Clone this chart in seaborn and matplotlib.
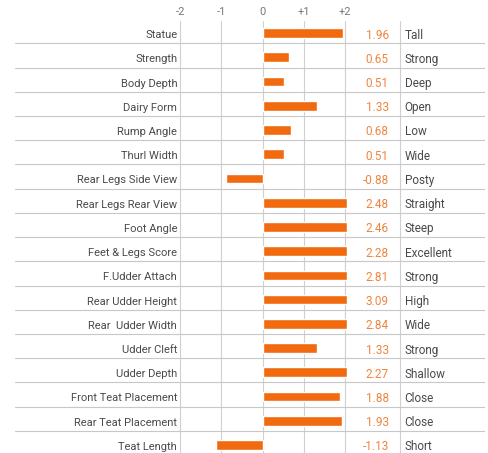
import matplotlib
matplotlib.use('Agg')
import matplotlib.pyplot as plt
import seaborn as sns
import pandas as pd
import numpy as np

traits = ['Statue', 'Strength', 'Body Depth', 'Dairy Form', 'Rump Angle', 'Thurl Width',
          'Rear Legs Side View', 'Rear Legs Rear View', 'Foot Angle', 'Feet & Legs Score',
          'F.Udder Attach', 'Rear Udder Height', 'Rear  Udder Width', 'Udder Cleft',
          'Udder Depth', 'Front Teat Placement', 'Rear Teat Placement', 'Teat Length']
values = [1.96, 0.65, 0.51, 1.33, 0.68, 0.51, -0.88, 2.48, 2.46, 2.28,
          2.81, 3.09, 2.84, 1.33, 2.27, 1.88, 1.93, -1.13]
descriptors = ['Tall', 'Strong', 'Deep', 'Open', 'Low', 'Wide', 'Posty', 'Straight', 'Steep',
               'Excellent', 'Strong', 'High', 'Wide', 'Strong', 'Shallow', 'Close', 'Close', 'Short']
tick_vals = [-2, -1, 0, 1, 2]
tick_labels = ['-2', '-1', '0', '+1', '+2']

sns.set_style('white')
plt.rcParams['font.family'] = ['Roboto', 'DejaVu Sans']

df = pd.DataFrame({'trait': traits, 'value': values})
# bars are cut off just past the +2 / -2 range
df['bar'] = np.clip(df['value'], -2.05, 2.05)

W, H = 488, 453
fig = plt.figure(figsize=(W / 100, H / 100), dpi=100)
ax = fig.add_axes([15 / W, 0, (485 - 15) / W, (453 - 21) / H])

orange = '#f26a10'
sns.barplot(data=df, x='bar', y='trait', orient='h', color=orange, saturation=1,
            width=0.4, ax=ax, zorder=3)

n = len(traits)
ax.set_xlim(-6.0, 5.39)
ax.set_ylim(n - 1 + 0.33, -0.5)

for t in tick_vals:
    ax.axvline(t, color='#d0d0d0', lw=0.8, zorder=1)
ax.axvline(3.32, color='#d0d0d0', lw=0.8, zorder=1)
for i in range(n):
    ax.axhline(i + 0.42, color='#c8c8c8', lw=0.8, zorder=1)

for i, (tr, v, d) in enumerate(zip(traits, values, descriptors)):
    ax.text(-2.07, i + 0.08, tr, ha='right', va='center', fontsize=8, color='#4a4a4a')
    ax.text(3.06, i + 0.08, f'{v:.2f}', ha='right', va='center', fontsize=8.5, color='#f0843f')
    ax.text(3.44, i + 0.08, d, ha='left', va='center', fontsize=8.5, color='#4a4a4a')

ax.xaxis.tick_top()
ax.set_xticks(tick_vals)
ax.set_xticklabels(tick_labels, fontsize=8, color='#777777')
ax.tick_params(axis='x', length=0, pad=3)
ax.set_yticks([])
ax.set_xlabel('')
ax.set_ylabel('')
for s in ax.spines.values():
    s.set_visible(False)

fig.savefig('out.png', dpi=100)
